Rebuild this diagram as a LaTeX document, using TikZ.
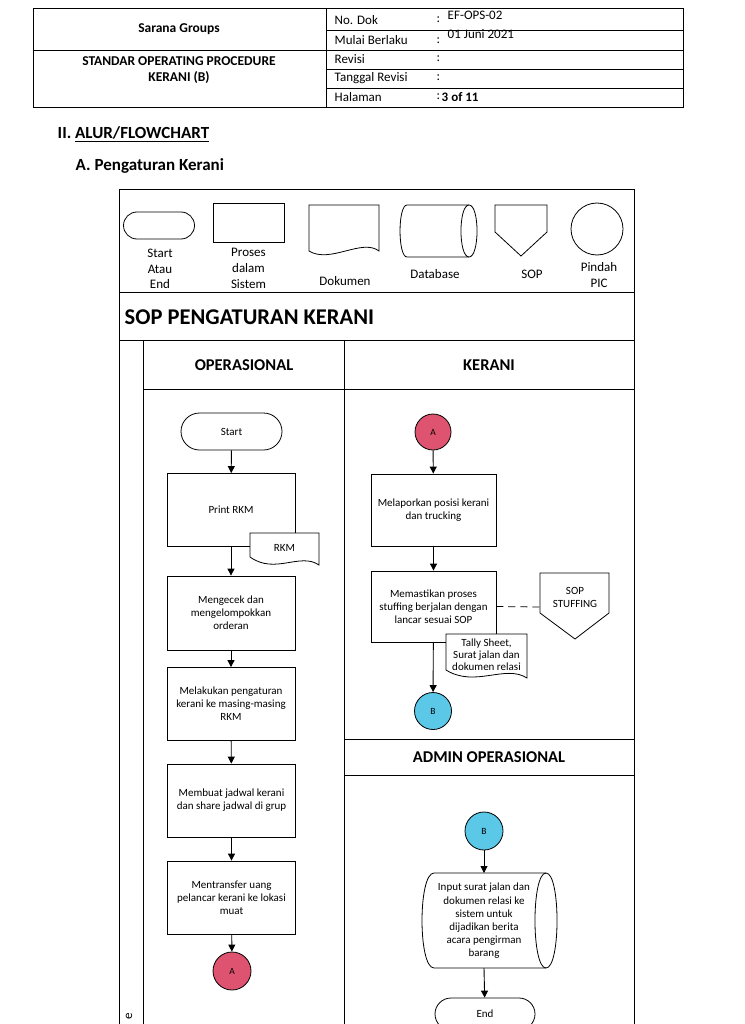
\documentclass[tikz,border=0pt]{standalone}
\usepackage{fontspec}
\setmainfont{Carlito}
\usetikzlibrary{shapes.misc,arrows.meta}
\definecolor{conA}{RGB}{222,84,112}
\definecolor{conB}{RGB}{92,200,232}
\begin{document}
\begin{tikzpicture}[x=1pt,y=-1pt,line width=0.8pt,
  box/.style={draw,fill=white,minimum width=128pt,minimum height=73pt,inner sep=1pt,align=center,font=\fontsize{11}{13}\selectfont},
  term/.style={draw,fill=white,rounded rectangle,minimum width=101pt,minimum height=37pt,inner sep=0pt,font=\fontsize{11}{13}\selectfont},
  conn/.style={draw,circle,minimum size=37pt,inner sep=0pt,font=\fontsize{9.5}{11}\selectfont},
  arr/.style={-{Triangle[length=7pt,width=7pt]},line width=0.9pt},
  hdr/.style={font=\fontsize{13.5}{16}\selectfont\bfseries,align=center},
  cell/.style={anchor=west,font=\fontsize{13}{15}\selectfont},
  leg/.style={align=center,font=\fontsize{13}{15.8}\selectfont},
  lane/.style={font=\fontsize{16.5}{19}\selectfont\bfseries},
  doctext/.style={align=center,font=\fontsize{11}{11.8}\selectfont}]
\path[use as bounding box] (0,0) rectangle (744,1024);
\clip (0,0) rectangle (744,1024);
\fill[white] (0,0) rectangle (744,1024);
% ---------- header table
\draw (33,8) rectangle (683,107);
\draw (326,8) -- (326,107);
\draw (33,50) -- (683,50);
\draw (326,30) -- (683,30) (326,69) -- (683,69) (326,88) -- (683,88);
\node[hdr] (sarana) at (179,29) {Sarana Groups};
\node[hdr] (sop) at (179,70) {STANDAR OPERATING PROCEDURE\\KERANI (B)};
\node[cell] (l1) at (331,20) {No. Dok};
\node[cell] (l2) at (331,40) {Mulai Berlaku};
\node[cell] (l3) at (331,59) {Revisi};
\node[cell] (l4) at (331,78) {Tanggal Revisi};
\node[cell] (l5) at (331,97) {Halaman};
\node[cell] (c1) at (433,20) {:};
\node[cell] (c2) at (433,41) {:};
\node[cell] (c3) at (433,59) {:};
\node[cell] (c4) at (433,78) {:};
\node[cell] (c5) at (433,97) {:};
\node[cell] (v1) at (444,15) {EF-OPS-02};
\node[cell] (v2) at (444,34) {01 Juni 2021};
\node[cell,font=\fontsize{13}{15}\selectfont\bfseries] (v5) at (438,97) {3 of 11};
% ---------- headings
\node[anchor=west,font=\fontsize{17}{19}\selectfont\bfseries] (h1) at (54,134) {II. \underline{ALUR/FLOWCHART}};
\node[anchor=west,font=\fontsize{17}{19}\selectfont\bfseries] (h2) at (72,166) {A. Pengaturan Kerani};
% ---------- frame
\draw (119,1040) -- (119,189) -- (634,189) -- (634,1040);
\draw (119,292) -- (634,292);
\draw (119,340) -- (634,340);
\draw (143,340) -- (143,1040);
\draw (143,389) -- (634,389);
\draw (344,340) -- (344,1040);
\draw (344,739) -- (634,739);
\draw (344,775) -- (634,775);
\node[anchor=west,font=\fontsize{22.5}{26}\selectfont\bfseries] (title) at (121,317) {SOP PENGATURAN KERANI};
\node[lane] (lop) at (244,365) {OPERASIONAL};
\node[lane] (lker) at (489,365) {KERANI};
\node[lane] (ladm) at (489,757) {ADMIN OPERASIONAL};
\node[rotate=90,font=\fontsize{13}{15}\selectfont] (side) at (129,1016) {e};
% ---------- legend
\node[term,minimum width=71pt,minimum height=27pt] (gterm) at (159,225.5) {};
\node[draw,minimum width=71pt,minimum height=39pt,inner sep=0pt] (gproc) at (248.5,223) {};
\draw (309,205) -- (379,205) -- (379,251) .. controls (362,238) and (330,264) .. (309,251) -- cycle;
\draw (407,205) -- (469,205) .. controls (479.7,205) and (479.7,257) .. (469,257) -- (407,257) .. controls (397.7,257) and (397.7,205) .. (407,205) -- cycle;
\draw (469,205) .. controls (458.3,205) and (458.3,257) .. (469,257);
\draw (495,205) -- (547,205) -- (547,232) -- (521,256) -- (495,232) -- cycle;
\node[draw,circle,minimum size=52pt,inner sep=0pt] (gcirc) at (597,229) {};
\node[leg] (t1) at (160,269) {Start\\Atau\\End};
\node[leg] (t2) at (248.5,268.5) {Proses\\dalam\\Sistem};
\node[leg] (t3) at (345,281) {Dokumen};
\node[leg] (t4) at (435,274.5) {Database};
\node[leg] (t5) at (532,274.5) {SOP};
\node[leg] (t6) at (599,275) {Pindah\\PIC};
% ---------- OPERASIONAL lane
\node[term] (start) at (231.5,431.5) {Start};
\node[box] (print) at (231,510) {Print RKM};
\node[box,minimum height=74pt] (cek) at (231,613) {Mengecek dan\\mengelompokkan\\orderan};
\node[box] (atur) at (231,704) {Melakukan pengaturan\\kerani ke masing-masing\\RKM};
\node[box] (jadwal) at (231.5,800.5) {Membuat jadwal kerani\\dan share jadwal di grup};
\node[box] (transfer) at (231.5,897.5) {Mentransfer uang\\pelancar kerani ke lokasi\\muat};
\node[conn,fill=conA,minimum size=38pt] (a1) at (232,971) {A};
\draw[fill=white] (250,533) -- (319,533) -- (319,565) .. controls (300,552) and (275,575) .. (250,557) -- cycle;
\node[doctext] (rkm) at (284.5,548) {RKM};
\draw[arr] (start) -- (print);
\draw[arr] (print) -- (cek);
\draw[arr] (cek) -- (atur);
\draw[arr] (atur) -- (jadwal);
\draw[arr] (jadwal) -- (transfer);
\draw[arr] (transfer) -- (a1);
% ---------- KERANI lane
\node[conn,fill=conA,minimum size=36pt] (a2) at (433,432) {A};
\node[box,minimum width=125pt,minimum height=72pt] (lapor) at (433.5,510) {Melaporkan posisi kerani\\dan trucking};
\node[box,minimum width=125pt,minimum height=71pt] (pastikan) at (433.5,606.5) {Memastikan proses\\stuffing berjalan dengan\\lancar sesuai SOP};
\draw[fill=white] (540,573) -- (609,573) -- (609,613) -- (575,639) -- (540,613) -- cycle;
\node[doctext,font=\fontsize{11}{13}\selectfont] (sopst) at (575,597) {SOP\\STUFFING};
\coordinate (sopw) at (540,607);
\draw[dashed,dash pattern=on 7pt off 5pt] (pastikan.east) -- (sopw);
\draw[fill=white] (446,634) -- (527,634) -- (527,678) .. controls (505,664) and (475,688) .. (446,670) -- cycle;
\node[doctext] (tally) at (486.5,655) {Tally Sheet,\\Surat jalan dan\\dokumen relasi};
\node[conn,fill=conB] (b1) at (433,711) {B};
\draw[arr] (a2) -- (lapor);
\draw[arr] (lapor) -- (pastikan);
\draw[arr] (pastikan) -- (b1);
% ---------- ADMIN lane
\node[conn,fill=conB,minimum size=38pt] (b2) at (484,831) {B};
\draw[fill=white] (434,873) -- (546,873) .. controls (560.7,873) and (560.7,968) .. (546,968) -- (434,968) .. controls (418,968) and (418,873) .. (434,873) -- cycle;
\draw (546,873) .. controls (531.3,873) and (531.3,968) .. (546,968);
\node[align=center,font=\fontsize{11}{13.2}\selectfont,inner sep=0pt] (input) at (484,921) {Input surat jalan dan\\dokumen relasi ke\\sistem untuk\\dijadikan berita\\acara pengirman\\barang};
\coordinate (dbtop) at (484,873);
\coordinate (dbbot) at (484,968);
\node[term,minimum width=100pt,minimum height=32pt] (end) at (485,1014) {End};
\draw[arr] (b2) -- (dbtop);
\draw[arr] (dbbot) -- (end);
\end{tikzpicture}
\end{document}
